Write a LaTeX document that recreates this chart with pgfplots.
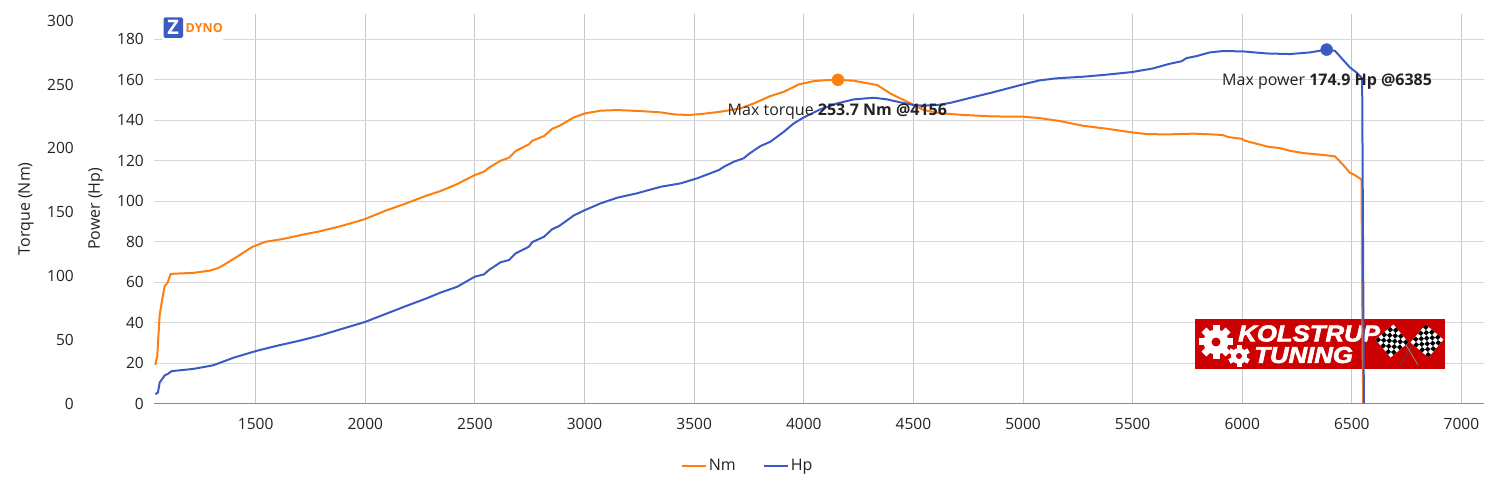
\documentclass[border=0pt]{standalone}
\usepackage{fontspec}
\setmainfont{Open Sans}
\newfontfamily\logofont[FakeBold=2.5]{Liberation Sans Bold Italic}
\usepackage{pgfplots}
\pgfplotsset{compat=1.18}
\definecolor{nmcol}{HTML}{FF7F0E}
\definecolor{hpcol}{HTML}{3C5AC6}
\definecolor{gridh}{HTML}{D6D6D6}
\definecolor{gridv}{HTML}{C8C8C8}
\definecolor{txt}{HTML}{222222}
\definecolor{logored}{HTML}{CC0000}

\pgfplotstableread{
rpm Nm
1042 30.3
1051 37.4
1056 52.5
1062 69.5
1073 81.2
1085 92.2
1097 94.3
1112 101.6
1216 102.4
1292 104.2
1330 106.3
1360 109.2
1421 115.7
1482 122.5
1543 126.7
1626 129.0
1710 132.2
1793 135.0
1892 139.2
1996 144.4
2090 151.0
2189 157.0
2280 163.0
2343 166.5
2419 172.0
2500 179.1
2541 181.7
2564 184.8
2617 190.3
2655 192.6
2686 197.9
2746 203.1
2762 206.0
2815 209.6
2853 215.4
2884 217.5
2952 224.3
3002 227.4
3073 229.5
3149 230.0
3255 229.2
3347 228.2
3408 226.6
3476 226.1
3544 227.1
3620 228.7
3711 231.3
3772 235.2
3848 241.0
3909 244.3
3977 250.1
4046 252.7
4106 253.5
4156 253.7
4228 253.0
4335 249.6
4395 243.0
4456 237.8
4502 233.9
4547 230.0
4620 227.6
4715 226.3
4772 225.8
4863 225.0
5000 224.8
5076 223.7
5167 221.4
5274 217.7
5380 215.4
5497 212.5
5563 211.2
5654 210.9
5776 211.5
5852 211.0
5913 210.4
5936 208.8
5997 207.5
6012 206.0
6065 203.6
6119 201.2
6172 200.2
6217 198.1
6278 196.3
6385 194.5
6423 193.7
6461 186.9
6491 180.9
6514 179.0
6544 175.6
6548 60
6552 0
}\torquedata

\pgfplotstableread{
rpm Hp
1042 4.6
1054 5.4
1062 10.4
1086 14.0
1097 14.5
1117 16.0
1216 17.1
1307 18.9
1398 22.6
1500 25.9
1596 28.5
1702 31.1
1793 33.6
1900 37.1
1996 40.2
2082 43.8
2189 48.3
2280 52.0
2343 54.8
2419 57.7
2500 62.7
2541 63.8
2564 66.0
2617 69.8
2655 70.9
2686 74.2
2746 77.5
2762 79.8
2815 82.4
2853 86.2
2884 87.7
2952 93.0
3002 95.6
3073 98.9
3149 101.7
3240 103.9
3347 107.1
3438 108.8
3514 111.3
3613 115.4
3636 117.0
3681 119.5
3726 121.2
3749 123.3
3802 127.2
3848 129.4
3909 134.3
3954 138.4
4000 141.4
4076 145.4
4152 148.3
4228 150.3
4319 151.1
4380 150.3
4441 148.8
4502 147.5
4547 147.2
4608 147.5
4669 148.6
4772 151.4
4863 153.8
5000 157.7
5076 159.7
5152 160.7
5274 161.5
5380 162.5
5497 163.8
5593 165.6
5669 167.9
5722 169.1
5746 170.7
5792 171.7
5852 173.5
5913 174.2
6005 174.0
6111 173.0
6217 172.7
6309 173.5
6385 174.9
6423 174.3
6461 169.7
6491 166.1
6522 163.5
6547 160.7
6555 0
}\powerdata

\pgfplotsset{
  dyno/.style={
    at={(154pt,96.5pt)}, anchor=origin,
    scale only axis, width=1330pt, height=389.5pt,
    xmin=1036, xmax=7103,
    major tick length=0pt,
    tick style={draw=none},
    tick align=outside,
    /pgf/number format/1000 sep={},
    /pgf/number format/assume math mode=true,
    every tick label/.append style={font=\fontsize{15.5}{18}\selectfont, text=txt, inner sep=0pt},
    label style={font=\fontsize{16}{18}\selectfont, text=txt},
  },
}

\newcommand{\checkerflag}{%
  \fill[white] (-11.7,-11.7) rectangle (11.7,11.7);
  \foreach \i in {0,...,5} \foreach \j in {0,...,5} {
    \pgfmathparse{int(mod(\i+\j,2))}
    \ifnum\pgfmathresult=0 \fill[black] (-11.7+\i*3.9,-11.7+\j*3.9) rectangle ++(3.9,3.9); \fi
  }%
}

\begin{document}
\begin{tikzpicture}
\useasboundingbox (0,0) rectangle (1500pt,500pt);

% power scale: grid, tick labels
\begin{axis}[dyno,
    ymin=0, ymax=192.5,
    axis x line*=bottom, axis y line*=left,
    x axis line style={draw=black!45, line width=1pt, -},
    y axis line style={draw=none},
    xtick={1500,2000,...,7000},
    ytick={0,20,...,180},
    xmajorgrids, ymajorgrids,
    x grid style={gridv, line width=1pt},
    y grid style={gridh, line width=1pt},
    x tick label style={anchor=center, yshift=-20.5pt},
    y tick label style={anchor=east, xshift=-10pt},
    ylabel={Power (Hp)},
    every axis y label/.append style={at={(axis description cs:-0.0436,0.5)}, anchor=center},
  ]
\end{axis}

% logos, in image pixels
\begin{scope}[x=1pt, y=-1pt, shift={(0pt,500pt)}]
  \fill[white] (162,14) rectangle (223,42);
  \fill[hpcol, rounded corners=1.5pt] (163.5,17.5) rectangle (183,38);
  \node[text=white, font=\fontsize{20}{20}\selectfont\bfseries, inner sep=0pt] at (173.2,27.8) {Z};
  \node[text=nmcol, font=\fontsize{12.5}{13}\selectfont\bfseries, inner sep=0pt, anchor=west] at (185.5,28) {DYNO};

  \fill[logored] (1195,319.5) rectangle (1445,369);
  % gears
  \foreach \a in {0,45,...,315} {
    \fill[white, rotate around={\a:(1216,342)}] (1212.5,325) rectangle (1219.5,335);
  }
  \fill[white] (1216,342) circle (12.5);
  \fill[logored] (1216,342) circle (4.5);
  \foreach \a in {0,60,...,300} {
    \fill[white, rotate around={\a:(1239,356)}] (1236.5,345) rectangle (1241.5,350);
  }
  \fill[white] (1239,356) circle (8);
  \fill[logored] (1239,356) circle (3);
  \node[text=white, inner sep=0pt, anchor=west, xscale=1.12,
        font=\fontsize{23}{23}\selectfont\logofont] at (1238,333.5) {KOLSTRUP};
  \node[text=white, inner sep=0pt, anchor=west, xscale=1.12,
        font=\fontsize{23}{23}\selectfont\logofont] at (1254,355) {TUNING};
  % flags
  \draw[black!70, line width=0.8pt] (1419,335) -- (1400,365);
  \draw[black!45, line width=0.8pt] (1400,335) -- (1418,365);
  \begin{scope}[shift={(1392,341)}, rotate=40, x=1pt, y=-1pt]
    \checkerflag
  \end{scope}
  \begin{scope}[shift={(1427,341)}, rotate=-40, x=1pt, y=-1pt]
    \checkerflag
  \end{scope}
\end{scope}

% torque scale and curve
\begin{axis}[dyno,
    ymin=0, ymax=305.3,
    axis x line=none, axis y line*=left,
    y axis line style={draw=none},
    ytick={0,50,...,300},
    y tick label style={anchor=east, xshift=-80pt},
    ylabel={Torque (Nm)},
    every axis y label/.append style={at={(axis description cs:-0.0962,0.5)}, anchor=center},
  ]
  \addplot[nmcol, line width=2pt, line join=round] table[x=rpm, y=Nm] {\torquedata};
  \addplot[only marks, mark=*, mark size=6pt, color=nmcol] coordinates {(4156,253.7)};
\end{axis}

% power curve, legend and notes
\begin{axis}[dyno,
    ymin=0, ymax=192.5,
    hide axis,
    legend columns=2,
    legend style={at={(rel axis cs:0.4463,-0.16)}, anchor=center, draw=none, fill=none,
      font=\fontsize{16}{18}\selectfont, text=txt,
      /tikz/every even column/.append style={column sep=25pt}},
    legend image code/.code={\draw[#1, line width=2pt] (0pt,0pt) -- (24pt,0pt);},
  ]
  \addlegendimage{nmcol}
  \addlegendentry{Nm}
  \addplot[hpcol, line width=2pt, line join=round] table[x=rpm, y=Hp] {\powerdata};
  \addlegendentry{Hp}
  \addplot[only marks, mark=*, mark size=6pt, color=hpcol, forget plot] coordinates {(6385,174.9)};
  \node[text=txt, font=\fontsize{16}{18}\selectfont, inner sep=0pt] at (axis cs:4153,144.2)
    {Max torque \textbf{253.7 Nm @4156}};
  \node[text=txt, font=\fontsize{16}{18}\selectfont, inner sep=0pt] at (axis cs:6387,159.1)
    {Max power \textbf{174.9 Hp @6385}};
\end{axis}
\end{tikzpicture}
\end{document}
